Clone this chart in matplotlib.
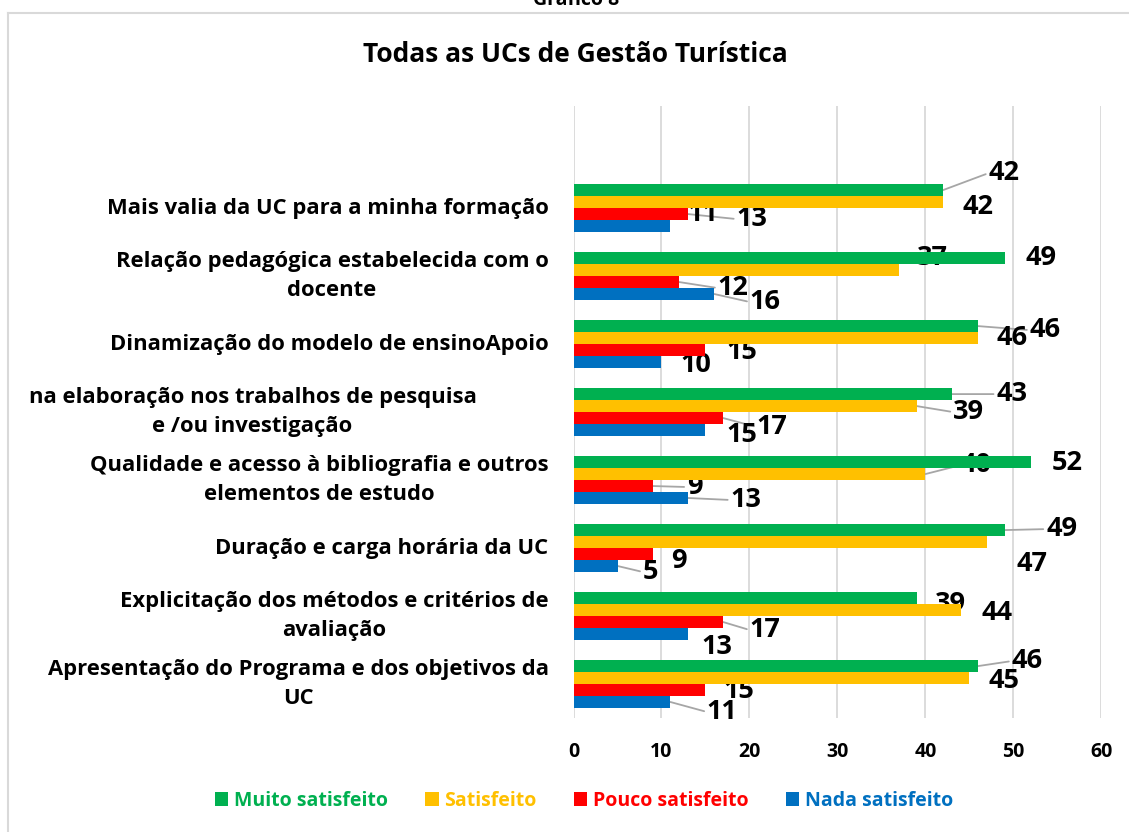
import matplotlib
matplotlib.use("Agg")
import matplotlib.pyplot as plt
from matplotlib.patches import Patch
from matplotlib.lines import Line2D

plt.rcParams['font.family'] = ['Open Sans', 'DejaVu Sans']
plt.rcParams['font.weight'] = 'bold'

# categorias de cima para baixo
categorias = [
    "Mais valia da UC para a minha formação",
    "Relação pedagógica estabelecida com o\ndocente",
    "Dinamização do modelo de ensinoApoio",
    "na elaboração nos trabalhos de pesquisa\ne /ou investigação",
    "Qualidade e acesso à bibliografia e outros\nelementos de estudo",
    "Duração e carga horária da UC",
    "Explicitação dos métodos e critérios de\navaliação",
    "Apresentação do Programa e dos objetivos da\nUC",
]
muito = [42, 49, 46, 43, 52, 49, 39, 46]
satisfeito = [42, 37, 46, 39, 40, 47, 44, 45]
pouco = [13, 12, 15, 17, 9, 9, 17, 15]
nada = [11, 16, 10, 15, 13, 5, 13, 11]

nomes = ["Muito satisfeito", "Satisfeito", "Pouco satisfeito", "Nada satisfeito"]
cores = ["#00B050", "#FFC000", "#FF0000", "#0070C0"]
xticks = [0, 10, 20, 30, 40, 50, 60]

# onde ficam os rotulos: (dx, dy) em px desde a ponta da barra (dy para baixo), 1 = com linha guia
rot_muito = [(61, -17, 1), (36, 0, 0), (67, 4, 1), (60, 0, 1), (36, 1, 0), (57, -1, 1), (34, 6, 0), (49, -5, 1)]
rot_satisf = [(35, 5, 0), (33, -12, 0), (34, 0, 0), (52, 6, 1), (51, -9, 1), (45, 22, 0), (36, 3, 0), (35, 3, 0)]
rot_pouco = [(64, 5, 1), (54, 6, 1), (36, 2, 0), (49, 9, 1), (42, 1, 1), (26, 7, 0), (42, 8, 1), (33, 1, 0)]
rot_nada = [(33, -12, 0), (51, 8, 1), (34, 3, 0), (36, 5, 0), (58, 2, 1), (33, 6, 1), (29, 13, 0), (52, 10, 1)]

series = [muito, satisfeito, pouco, nada]
rotulos = [rot_muito, rot_satisf, rot_pouco, rot_nada]

fig = plt.figure(figsize=(11.29, 8.32), dpi=100)
ax = fig.add_axes([0.508, 0.137, 0.4675, 0.7355])

n = len(categorias)
h = 0.176
for s in range(4):
    ys = [n - 1 - i + (1.5 - s) * h for i in range(n)]
    ax.barh(ys, series[s], height=h, color=cores[s], zorder=3)
    for i in range(n):
        v = series[s][i]
        dx, dy, guia = rotulos[s][i]
        kw = {}
        if guia:
            kw['arrowprops'] = dict(arrowstyle='-', color='#A6A6A6', lw=1.3,
                                    shrinkA=0, shrinkB=0, relpos=(0, 0.5))
        ax.annotate(str(v), xy=(v, ys[i]), xytext=(dx, -dy), textcoords='offset pixels',
                    ha='center', va='center', fontsize=19.5, fontweight='bold',
                    color='black', zorder=2, **kw)

for i, lab in enumerate(categorias):
    dx = -97 if i == 3 else -25
    ax.annotate(lab, xy=(0, n - 1 - i), xycoords=('axes fraction', 'data'),
                xytext=(dx, 0), textcoords='offset pixels', ha='right', va='center',
                multialignment='center', fontsize=15.8, fontweight='bold', linespacing=1.5)

ax.set_xlim(0, 60)
ax.set_ylim(-0.5, n + 0.5)
ax.set_xticks(xticks)
ax.set_yticks([])
ax.tick_params(axis='x', length=0, pad=17, labelsize=14)
ax.xaxis.grid(True, color='#D9D9D9', lw=1.3)
ax.set_axisbelow(True)
for sp in ax.spines.values():
    sp.set_visible(False)

fig.text(0.51, 0.934, "Todas as UCs de Gestão Turística", ha='center', va='center',
         fontsize=19, fontweight='bold')
fig.text(0.51, 1.0, "Gráfico 8", ha='center', va='center', fontsize=14, fontweight='bold')

# moldura do grafico
fig.add_artist(Line2D([8 / 1129, 8 / 1129], [0, 1 - 13 / 832], color='#D9D9D9', lw=1.5))
fig.add_artist(Line2D([8 / 1129, 1], [1 - 13 / 832, 1 - 13 / 832], color='#D9D9D9', lw=1.5))

handles = [Patch(facecolor=c, edgecolor='none') for c in cores]
fig.legend(handles, nomes, loc='center', bbox_to_anchor=(584 / 1129, 1 - 801 / 832), ncol=4,
           frameon=False, labelcolor=cores, handlelength=0.7, handleheight=0.7,
           handletextpad=0.3, columnspacing=1.9, prop={'weight': 'bold', 'size': 14})

fig.savefig("out.png", dpi=100)
